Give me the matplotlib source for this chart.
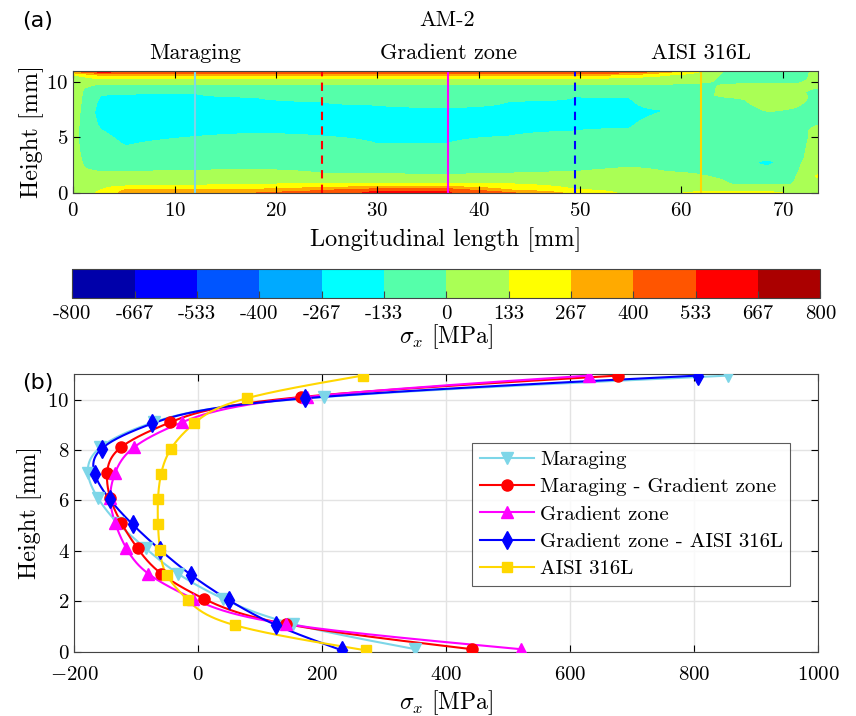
import numpy as np
import matplotlib
matplotlib.use('Agg')
import matplotlib.pyplot as plt
from matplotlib.colors import ListedColormap, BoundaryNorm

plt.rcParams['font.family'] = ['cmr10', 'DejaVu Serif']
plt.rcParams['mathtext.fontset'] = 'cm'
plt.rcParams['axes.formatter.use_mathtext'] = True
plt.rcParams['axes.unicode_minus'] = False

# ---------------- data: stress profiles (panel b) ----------------
series_names = ['Maraging', 'Maraging - Gradient zone', 'Gradient zone',
                'Gradient zone - AISI 316L', 'AISI 316L']
h_a = [0.1, 1.1, 2.1, 3.1, 4.1, 5.1, 6.1, 7.1, 8.1, 9.1, 10.1, 10.95]
h_b = [0.05, 1.05, 2.05, 3.05, 4.05, 5.05, 6.05, 7.05, 8.05, 9.05, 10.05, 10.95]
maraging = [350, 153, 40, -33, -85, -130, -162, -178, -158, -72, 203, 855]
mar_grad = [441, 141, 9, -60, -98, -124, -142, -147, -125, -45, 166, 677]
gradient = [520, 141, -8, -81, -116, -134, -142, -134, -104, -26, 175, 630]
grad_aisi = [232, 126, 49, -12, -62, -106, -143, -167, -156, -74, 172, 806]
aisi = [271, 59, -17, -51, -62, -65, -65, -60, -44, -7, 78, 265]

# ---------------- data: contour field (panel a) ----------------
line_pos = [12, 24.5, 37, 49.5, 62]
zone_labels = ['Maraging', 'Gradient zone', 'AISI 316L']
zone_pos = [12, 37, 62]
field_x = [0, 1, 2.5, 5, 12, 18, 24.5, 30, 37, 43, 49.5, 55, 58.5, 62, 65, 68.5, 71, 73.5]
field_h = [
    [0, 10.4, 10.7, 11],
    [0, 0.8, 2.2, 5, 9.4, 10.0, 10.5, 10.8, 11],
    [0, 0.4, 1.9, 5.8, 7.3, 8.8, 9.8, 10.3, 10.6, 10.8, 11],
    [0, 0.3, 0.6, 1.9, 4.2, 6.5, 8.9, 9.8, 10.3, 10.55, 10.75, 10.9, 11],
    [0, 0.3, 0.65, 2.0, 5.05, 7, 8.96, 9.8, 10.3, 10.55, 10.75, 10.9, 11],
    [0, 0.3, 0.75, 2.1, 5.35, 7, 8.6, 9.8, 10.3, 10.55, 10.75, 10.9, 11],
    [0, 0.2, 0.45, 0.8, 1.75, 5.1, 6.8, 8.2, 9.8, 10.3, 10.55, 10.75, 10.9, 11],
    [0, 0.15, 0.35, 0.55, 0.85, 1.7, 4.4, 6.2, 7.9, 9.8, 10.3, 10.55, 10.75, 10.9, 11],
    [0, 0.15, 0.35, 0.55, 0.85, 1.6, 4.45, 6.0, 7.67, 9.8, 10.3, 10.55, 10.75, 10.9, 11],
    [0, 0.25, 0.5, 0.8, 1.75, 5.1, 6.7, 8.25, 9.8, 10.3, 10.55, 10.75, 10.9, 11],
    [0, 0.3, 1.9, 5.56, 7.1, 8.66, 9.8, 10.3, 10.55, 10.75, 10.9, 11],
    [0, 2.3, 5.8, 7.2, 8.6, 9.8, 10.4, 10.65, 10.8, 10.92, 11],
    [0, 1.9, 7.4, 9.8, 10.6, 10.85, 11],
    [0, 0.15, 1.6, 5, 9.0, 9.9, 10.5, 11],
    [0, 0.1, 0.7, 2.5, 5, 8.4, 8.8, 9.8, 10.2, 11],
    [0, 0.1, 0.7, 2.2, 2.7, 3.2, 5, 7.3, 8.5, 9.9, 10.3, 10.8, 11],
    [0, 0.7, 2, 5, 7.6, 8.6, 9.8, 10.2, 11],
    [0, 1.5, 3, 5.5, 6.5, 9, 10, 11],
]
field_v = [
    [60, 60, 200, 400],
    [80, 60, 0, -60, 0, 60, 133, 300, 600],
    [150, 100, 0, -133, -170, -133, 0, 133, 267, 450, 700],
    [300, 267, 133, 0, -133, -190, -133, 0, 133, 267, 400, 533, 700],
    [350, 267, 133, 0, -133, -180, -133, 0, 133, 267, 400, 533, 780],
    [400, 267, 133, 0, -133, -170, -133, 0, 133, 267, 400, 533, 750],
    [460, 400, 267, 133, 0, -133, -160, -133, 0, 133, 267, 400, 533, 700],
    [560, 533, 400, 267, 133, 0, -133, -160, -133, 0, 133, 267, 400, 533, 760],
    [540, 533, 400, 267, 133, 0, -133, -155, -133, 0, 133, 267, 400, 533, 700],
    [420, 267, 200, 133, 0, -133, -155, -133, 0, 133, 267, 400, 533, 720],
    [232, 133, 0, -133, -150, -133, 0, 133, 267, 400, 533, 800],
    [100, 0, -133, -150, -133, 0, 133, 267, 400, 533, 650],
    [90, 0, -133, 0, 133, 267, 400],
    [180, 100, 0, -70, -20, 0, 60, 140],
    [250, 100, 0, -60, -70, -20, 30, 0, -40, -60],
    [250, 100, 0, -110, -165, -110, -60, 0, 40, 0, -60, -120, -150],
    [60, 0, -40, -60, 0, 30, 0, -40, -60],
    [60, 150, 60, 30, -20, -20, 30, 30],
]

levels = [-800, -667, -533, -400, -267, -133, 0, 133, 267, 400, 533, 667, 800]
level_labels = ['-800', '-667', '-533', '-400', '-267', '-133', '0', '133',
                '267', '400', '533', '667', '800']
jet12 = ['#0000aa', '#0000ff', '#0055ff', '#00aaff', '#00ffff', '#55ffaa',
         '#aaff55', '#ffff00', '#ffaa00', '#ff5500', '#ff0000', '#aa0000']

colors = ['#7dd6e8', '#ff0000', '#ff00ff', '#0000ff', '#ffd700']
markers = ['v', 'o', '^', 'd', 's']
msizes = [8, 8, 8, 9, 7]
line_styles = ['-', '--', '-', '--', '-']


def natural_spline(t, y, tq):
    t = np.asarray(t, float); y = np.asarray(y, float)
    n = len(t)
    hh = np.diff(t)
    A = np.zeros((n, n)); r = np.zeros(n)
    A[0, 0] = 1; A[-1, -1] = 1
    for i in range(1, n - 1):
        A[i, i - 1] = hh[i - 1]
        A[i, i] = 2 * (hh[i - 1] + hh[i])
        A[i, i + 1] = hh[i]
        r[i] = 6 * ((y[i + 1] - y[i]) / hh[i] - (y[i] - y[i - 1]) / hh[i - 1])
    M = np.linalg.solve(A, r)
    idx = np.clip(np.searchsorted(t, tq) - 1, 0, n - 2)
    t0 = t[idx]; t1 = t[idx + 1]; d = t1 - t0
    a = (t1 - tq) / d; b = (tq - t0) / d
    return (a * y[idx] + b * y[idx + 1]
            + ((a ** 3 - a) * M[idx] + (b ** 3 - b) * M[idx + 1]) * d ** 2 / 6)


fig = plt.figure(figsize=(8.56, 7.16), dpi=100)

# ---------------- panel (a) ----------------
ax1 = fig.add_axes([0.0856, 0.7309, 0.870, 0.1704])
xf = np.linspace(0, 73.5, 600)
hf = np.linspace(0, 11, 400)
cols = np.array([np.interp(hf, h, v) for h, v in zip(field_h, field_v)])
Z = np.array([np.interp(xf, field_x, cols[:, j]) for j in range(len(hf))])
k = 7
kern = np.ones(k) / k
Zp = np.pad(Z, ((0, 0), (k // 2, k // 2)), mode='edge')
Z = np.array([np.convolve(row, kern, mode='valid') for row in Zp])
cmap = ListedColormap(jet12)
norm = BoundaryNorm(levels, cmap.N)
cs = ax1.contourf(xf, hf, Z, levels=levels, cmap=cmap, norm=norm)
for p, c, ls in zip(line_pos, colors, line_styles):
    ax1.axvline(p, color=c, ls=ls, lw=1.5, dashes=(4, 3) if ls == '--' else (None, None))
ax1.set_xlim(0, 73.5)
ax1.set_ylim(0, 11)
ax1.set_xticks([0, 10, 20, 30, 40, 50, 60, 70])
ax1.set_yticks([0, 5, 10])
ax1.tick_params(direction='in', labelsize=15, top=True, right=True, length=5)
ax1.tick_params(axis='x', pad=7)
ax1.set_xlabel('Longitudinal length [mm]', fontsize=17.5, labelpad=5)
ax1.set_ylabel('Height [mm]', fontsize=17.5, labelpad=2)
for lab, p in zip(zone_labels, zone_pos):
    ax1.text(p, 11.7, lab, ha='center', va='bottom', fontsize=16)
fig.text(0.522, 0.972, 'AM-2', ha='center', va='center', fontsize=16)
fig.text(0.044, 0.970, '(a)', ha='center', va='center', fontsize=16,
         family='DejaVu Sans')
for s in ax1.spines.values():
    s.set_color('#444444')

# ---------------- colorbar ----------------
cax = fig.add_axes([0.0844, 0.5840, 0.874, 0.0405])
cb = fig.colorbar(cs, cax=cax, orientation='horizontal', ticks=levels)
cb.ax.set_xticklabels(level_labels)
cb.ax.tick_params(direction='in', labelsize=15, length=5, color='#444444', pad=5)
cb.set_label(r'$\sigma_x$ [MPa]', fontsize=17, labelpad=0)
cb.outline.set_edgecolor('#444444')

# ---------------- panel (b) ----------------
ax2 = fig.add_axes([0.0868, 0.0898, 0.8692, 0.3874])
all_x = [maraging, mar_grad, gradient, grad_aisi, aisi]
all_h = [h_a, h_a, h_a, h_b, h_b]
for name, xs, hs, c, m, ms in zip(series_names, all_x, all_h, colors, markers, msizes):
    hq = np.linspace(hs[0], hs[-1], 400)
    xq = natural_spline(hs, xs, hq)
    ax2.plot(xq, hq, color=c, lw=1.5, zorder=3)
    ax2.plot(xs, hs, ls='none', marker=m, color=c, ms=ms, zorder=4)
    ax2.plot([], [], color=c, lw=1.5, marker=m, ms=ms, label=name)
ax2.set_xlim(-200, 1000)
ax2.set_ylim(0, 11)
ax2.set_xticks([-200, 0, 200, 400, 600, 800, 1000])
ax2.set_yticks([0, 2, 4, 6, 8, 10])
ax2.grid(True, color='#e3e3e3', lw=1)
ax2.set_axisbelow(True)
ax2.tick_params(direction='in', labelsize=15, top=True, right=True, length=5)
ax2.tick_params(axis='x', pad=10)
ax2.set_xlabel(r'$\sigma_x$ [MPa]', fontsize=17, labelpad=3)
ax2.set_ylabel('Height [mm]', fontsize=17.5, labelpad=4)
for s in ax2.spines.values():
    s.set_color('#444444')
leg = ax2.legend(loc='upper left', bbox_to_anchor=(0.535, 0.752), fontsize=15,
                 frameon=True, fancybox=False, edgecolor='#333333',
                 borderpad=0.35, labelspacing=0.42, handlelength=2.6,
                 handletextpad=0.3, borderaxespad=0)
leg.get_frame().set_linewidth(0.8)
fig.text(0.044, 0.465, '(b)', ha='center', va='center', fontsize=16,
         family='DejaVu Sans')

fig.savefig('out.png', dpi=100)
